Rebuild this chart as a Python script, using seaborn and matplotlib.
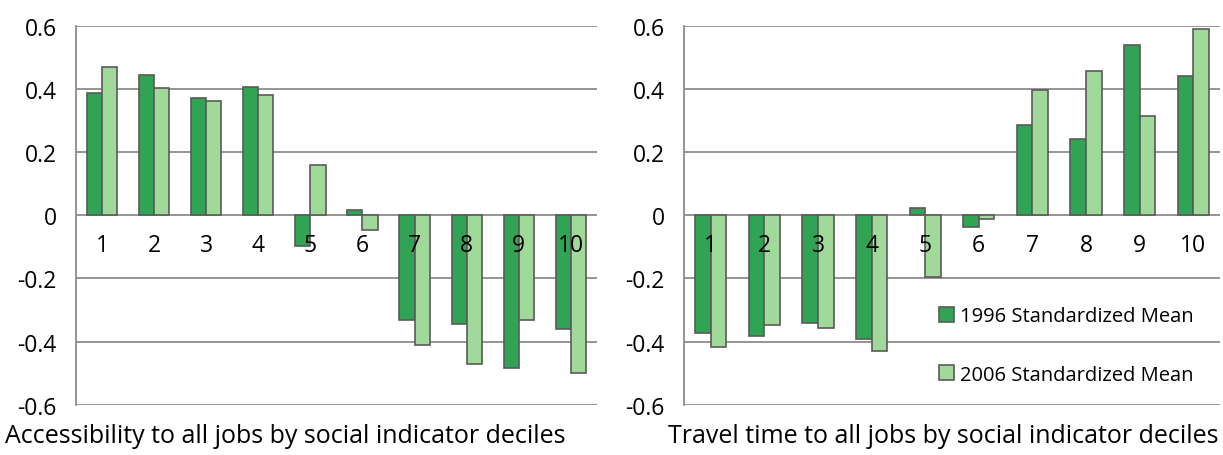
import matplotlib
matplotlib.use('Agg')
import matplotlib.pyplot as plt
from matplotlib import font_manager
import seaborn as sns
import pandas as pd

deciles = ['1', '2', '3', '4', '5', '6', '7', '8', '9', '10']
years = ['1996 Standardized Mean', '2006 Standardized Mean']

access_1996 = [0.388, 0.446, 0.371, 0.407, -0.097, 0.016, -0.332, -0.345, -0.484, -0.361]
access_2006 = [0.470, 0.405, 0.361, 0.382, 0.158, -0.045, -0.411, -0.470, -0.332, -0.501]

travel_1996 = [-0.373, -0.382, -0.340, -0.393, 0.022, -0.037, 0.287, 0.243, 0.541, 0.443]
travel_2006 = [-0.416, -0.348, -0.358, -0.429, -0.195, -0.010, 0.397, 0.458, 0.316, 0.592]

y_ticks = [-0.6, -0.4, -0.2, 0, 0.2, 0.4, 0.6]
y_tick_labels = ['-0.6', '-0.4', '-0.2', '0', '0.2', '0.4', '0.6']

titles = ['Accessibility to all jobs by social indicator deciles',
          'Travel time to all jobs by social indicator deciles']

colors = {years[0]: '#31a354', years[1]: '#a1d99b'}

sns.set_style('white')
installed = {f.name for f in font_manager.fontManager.ttflist}
narrow = 'Liberation Sans Narrow' if 'Liberation Sans Narrow' in installed else 'Open Sans'
plt.rcParams['font.family'] = ['Open Sans', 'DejaVu Sans']
plt.rcParams['text.color'] = 'black'
plt.rcParams['ytick.color'] = 'black'


def long_table(v96, v06):
    return pd.DataFrame({
        'Decile': deciles * 2,
        'Year': [years[0]] * len(deciles) + [years[1]] * len(deciles),
        'Value': list(v96) + list(v06),
    })


fig = plt.figure(figsize=(12.23, 4.56), dpi=100)
ax1 = fig.add_axes([0.0621, 0.1103, 0.4260, 0.8305])
ax2 = fig.add_axes([0.5593, 0.1103, 0.4382, 0.8305])

panels = [(ax1, long_table(access_1996, access_2006)),
          (ax2, long_table(travel_1996, travel_2006))]

for i, (ax, df) in enumerate(panels):
    sns.barplot(data=df, x='Decile', y='Value', hue='Year', order=deciles,
                hue_order=years, palette=colors, saturation=1, width=0.58,
                edgecolor='#5a5a5a', linewidth=1.2, ax=ax,
                legend=(i == 1), zorder=3)
    ax.set_ylim(-0.6, 0.6)
    ax.set_xlim(-0.5, len(deciles) - 0.5)
    ax.set_yticks(y_ticks)
    ax.set_yticklabels(y_tick_labels, fontsize=16.5)
    ax.tick_params(axis='y', length=0, pad=14)
    ax.set_xticks([])
    ax.set_xlabel('')
    ax.set_ylabel('')
    ax.yaxis.grid(True, color='#8c8c8c', linewidth=1.3, zorder=0)
    ax.set_axisbelow(True)
    for s in ['top', 'right', 'bottom']:
        ax.spines[s].set_visible(False)
    ax.spines['left'].set_color('#8c8c8c')
    ax.spines['left'].set_linewidth(1.3)
    for j, lab in enumerate(deciles):
        ax.text(j, -0.095, lab, ha='center', va='center', fontsize=16.5, zorder=5)

leg = ax2.legend(loc='lower right', bbox_to_anchor=(0.985, 0.005), frameon=False,
                 fontsize=14.5, handlelength=0.75, handleheight=0.75,
                 handletextpad=0.3, labelspacing=1.9)

fig.text(0.004, 0.042, titles[0], ha='left', va='center', fontsize=18, family=[narrow, 'DejaVu Sans'])
fig.text(0.996, 0.042, titles[1], ha='right', va='center', fontsize=18, family=[narrow, 'DejaVu Sans'])

fig.savefig('out.png', dpi=100)
